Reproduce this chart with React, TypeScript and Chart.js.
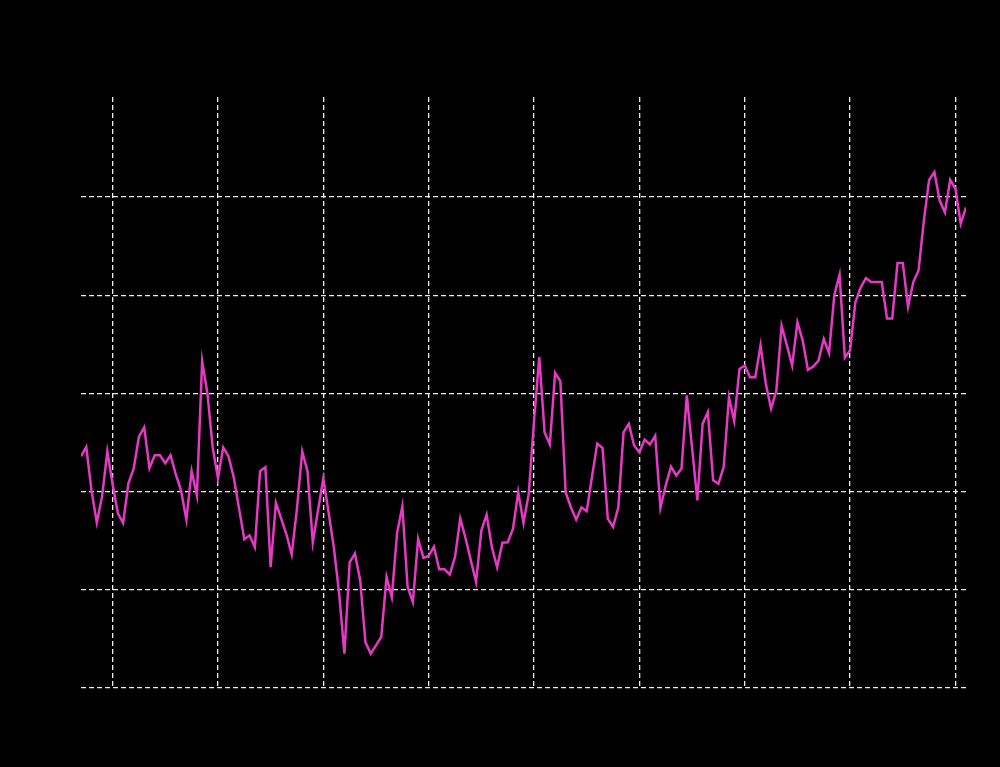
import React, { useEffect, useRef } from "react";
import { Chart, registerables } from "chart.js";

Chart.register(...registerables);

const START_YEAR = 1854;
const anomalies: number[] = [
  // 1854-1863
  -0.128, -0.109, -0.198, -0.263, -0.21, -0.118, -0.185, -0.244, -0.264, -0.183,
  // 1864-1873
  -0.153, -0.088, -0.069, -0.152, -0.126, -0.126, -0.142, -0.126, -0.165, -0.198,
  // 1874-1883
  -0.257, -0.158, -0.208, 0.066, 0.0, -0.11, -0.173, -0.11, -0.128, -0.171,
  // 1884-1893
  -0.234, -0.297, -0.289, -0.313, -0.158, -0.15, -0.354, -0.223, -0.255, -0.287,
  // 1894-1903
  -0.328, -0.234, -0.118, -0.159, -0.303, -0.238, -0.173, -0.242, -0.314, -0.407,
  // 1904-1913
  -0.53, -0.344, -0.326, -0.381, -0.507, -0.53, -0.513, -0.496, -0.374, -0.415,
  // 1914-1923
  -0.285, -0.23, -0.394, -0.425, -0.296, -0.335, -0.331, -0.312, -0.358, -0.358,
  // 1924-1933
  -0.369, -0.333, -0.255, -0.295, -0.34, -0.384, -0.279, -0.247, -0.313, -0.354,
  // 1934-1943
  -0.304, -0.303, -0.276, -0.201, -0.264, -0.204, -0.055, 0.074, -0.079, -0.104,
  // 1944-1953
  0.042, 0.025, -0.201, -0.232, -0.257, -0.232, -0.24, -0.17, -0.102, -0.111,
  // 1954-1963
  -0.255, -0.272, -0.232, -0.079, -0.062, -0.106, -0.12, -0.094, -0.104, -0.086,
  // 1964-1973
  -0.233, -0.187, -0.149, -0.167, -0.153, -0.004, -0.111, -0.218, -0.062, -0.038,
  // 1974-1983
  -0.177, -0.184, -0.15, -0.008, -0.056, 0.05, 0.057, 0.033, 0.033, 0.098,
  // 1984-1993
  0.02, -0.031, 0.006, 0.138, 0.098, 0.057, 0.145, 0.108, 0.048, 0.055,
  // 1994-2003
  0.067, 0.111, 0.082, 0.2, 0.242, 0.073, 0.088, 0.186, 0.216, 0.235,
  // 2004-2013
  0.227, 0.227, 0.227, 0.153, 0.153, 0.266, 0.266, 0.177, 0.227, 0.251,
  // 2014-2022
  0.352, 0.435, 0.451, 0.393, 0.369, 0.435, 0.417, 0.346, 0.379,
];
const years: number[] = anomalies.map((_, i) => START_YEAR + i);

const xTickYears: number[] = [1860, 1880, 1900, 1920, 1940, 1960, 1980, 2000, 2020];
const yTickValues: number[] = [-0.6, -0.4, -0.2, 0.0, 0.2, 0.4];

const X_MIN = 1854;
const X_MAX = 2022;
const Y_MIN = -0.6;
const Y_MAX = 0.604;

export default function App() {
  const canvasRef = useRef<HTMLCanvasElement | null>(null);

  useEffect(() => {
    const canvas = canvasRef.current;
    if (!canvas) return;
    const chart = new Chart(canvas, {
      type: "line",
      data: {
        datasets: [
          {
            label: "Anomaly",
            data: years.map((y, i) => ({ x: y, y: anomalies[i] })),
            borderColor: "#e738c6",
            backgroundColor: "#e738c6",
            borderWidth: 2.5,
            pointRadius: 0,
            tension: 0,
            fill: false,
          },
        ],
      },
      options: {
        responsive: false,
        animation: false,
        maintainAspectRatio: false,
        layout: { padding: { top: 97, right: 34, left: 0, bottom: 0 } },
        plugins: {
          legend: { display: false },
          tooltip: { enabled: false },
          title: { display: false },
        },
        scales: {
          x: {
            type: "linear",
            min: X_MIN,
            max: X_MAX,
            afterBuildTicks: (axis: any) => {
              axis.ticks = xTickYears.map((v) => ({ value: v }));
            },
            afterFit: (scale: any) => {
              scale.height = 79;
            },
            ticks: {
              color: "#000000",
              font: { family: "DejaVu Sans", size: 12 },
              callback: (v: any) => String(v),
            },
            grid: {
              color: "#f0f0f0",
              lineWidth: 1.3,
              drawTicks: false,
            },
            border: { display: false, dash: [5, 3] },
          },
          y: {
            type: "linear",
            min: Y_MIN,
            max: Y_MAX,
            afterBuildTicks: (axis: any) => {
              axis.ticks = yTickValues.map((v) => ({ value: v }));
            },
            afterFit: (scale: any) => {
              scale.width = 81;
            },
            ticks: {
              color: "#000000",
              font: { family: "DejaVu Sans", size: 12 },
              callback: (v: any) => Number(v).toFixed(1),
            },
            grid: {
              color: "#f0f0f0",
              lineWidth: 1.3,
              drawTicks: false,
            },
            border: { display: false, dash: [5, 3] },
          },
        },
      },
    });
    return () => chart.destroy();
  }, []);

  return (
    <div
      style={{
        position: "fixed",
        left: 0,
        top: 0,
        width: 1000,
        height: 767,
        background: "#000000",
      }}
    >
      <canvas ref={canvasRef} width={1000} height={767} style={{ display: "block" }} />
    </div>
  );
}
